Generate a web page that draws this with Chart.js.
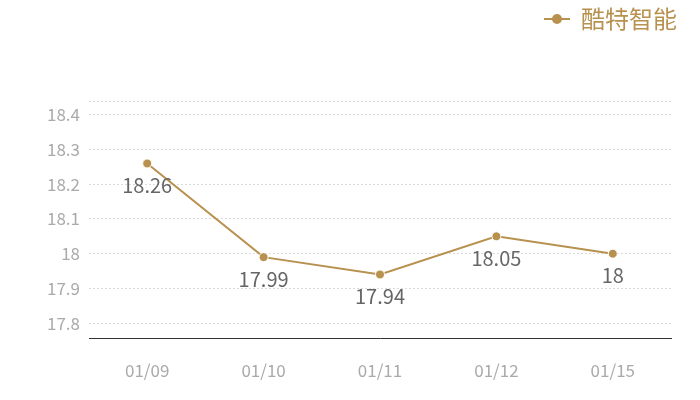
<!DOCTYPE html>
<html><head><meta charset="utf-8">
<script src="https://cdn.jsdelivr.net/npm/chart.js@4/dist/chart.umd.min.js"></script>
<style>html,body{margin:0;padding:0;background:#fff}#wrap{width:700px;height:400px}</style>
</head><body><div id="wrap"><canvas id="c" width="700" height="400"></canvas></div>
<script>
const categories = ['01/09','01/10','01/11','01/12','01/15'];
const seriesName = '酷特智能';
const values = [18.26, 17.99, 17.94, 18.05, 18];
const yTicks = [17.8, 17.9, 18, 18.1, 18.2, 18.3, 18.4];
const yMin = 17.757, yMax = 18.44;

const COLOR = '#B8914F';
const FONT = '"Noto Sans CJK SC","Noto Sans",sans-serif';

const legendIcon = document.createElement('canvas');
legendIcon.width = 26; legendIcon.height = 12;
(function(){const g=legendIcon.getContext('2d');g.strokeStyle=COLOR;g.lineWidth=2;g.beginPath();g.moveTo(0,6);g.lineTo(26,6);g.stroke();g.fillStyle=COLOR;g.beginPath();g.arc(13,6,5,0,Math.PI*2);g.fill();})();

const dataLabels = {
  id:'dataLabels',
  afterDatasetsDraw(chart){
    const ctx=chart.ctx; const meta=chart.getDatasetMeta(0);
    ctx.save(); ctx.font='20px '+FONT; ctx.fillStyle='#666'; ctx.textAlign='center'; ctx.textBaseline='middle';
    meta.data.forEach((p,i)=>{ ctx.fillText(String(values[i]), p.x, p.y+22); });
    ctx.restore();
  }
};

new Chart(document.getElementById('c'), {
  type:'line',
  data:{labels:categories, datasets:[{label:seriesName, data:values, borderColor:COLOR, backgroundColor:COLOR,
    borderWidth:2, pointRadius:4.5, pointBorderColor:'#fff', pointBorderWidth:1, pointBackgroundColor:COLOR, tension:0}]},
  options:{
    responsive:false, animation:false,
    layout:{padding:{left:0,right:16,top:0,bottom:0}},
    plugins:{
      legend:{position:'top', align:'end', weight:3000,
        labels:{usePointStyle:true, pointStyle:legendIcon, color:COLOR, font:{family:FONT,size:24}, padding:7, boxWidth:26}},
      title:{display:true, text:' ', font:{size:10}, padding:{top:0,bottom:48}},
      tooltip:{enabled:false}
    },
    scales:{
      x:{offset:true, grid:{display:false, drawTicks:false},
        border:{display:true,color:'#333',width:1},
        ticks:{color:'#aaa', font:{family:FONT,size:17}, padding:22},
        afterFit(s){s.height=62;}
      },
      y:{min:yMin, max:yMax,
        afterBuildTicks(s){ s.ticks=[yMin, ...yTicks, yMax].map(v=>({value:v})); },
        grid:{color:'#dadada', drawTicks:false, lineWidth:1},
        border:{display:false, dash:[2,2]},
        ticks:{color:'#aaa', font:{family:FONT,size:17}, padding:9,
          callback(v){ return yTicks.some(t=>Math.abs(t-v)<1e-6) ? String(+v.toFixed(1)) : ''; }},
        afterFit(s){s.width=89;}
      },
      yRightSpace:{position:'right', display:true, grid:{display:false, drawTicks:false}, border:{display:false},
        ticks:{display:false}, afterFit(s){s.width=13;}}
    }
  },
  plugins:[dataLabels]
});
</script></body></html>
